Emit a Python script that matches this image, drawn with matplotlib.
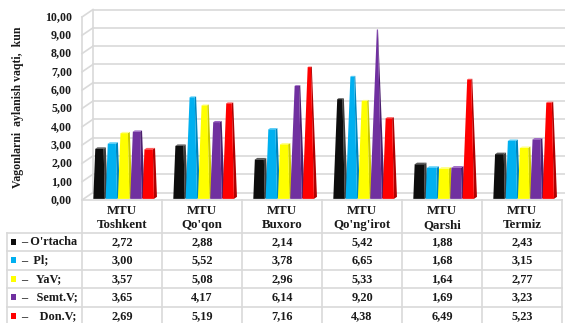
import matplotlib.pyplot as plt
import numpy as np
from matplotlib.patches import Polygon, Rectangle

# ---- data ----
categories = ["MTU\nToshkent", "MTU\nQo'qon", "MTU\nBuxoro",
              "MTU\nQo'ng'irot", "MTU\nQarshi", "MTU\nTermiz"]
series_names = ["– O'rtacha", "–  Pl;", "–   YaV;", "–   Semt.V;", "–    Don.V;"]
ortacha = [2.72, 2.88, 2.14, 5.42, 1.88, 2.43]
pl = [3.00, 5.52, 3.78, 6.65, 1.68, 3.15]
yav = [3.57, 5.08, 2.96, 5.33, 1.64, 2.77]
semt = [3.65, 4.17, 6.14, 9.20, 1.69, 3.23]
don = [2.69, 5.19, 7.16, 4.38, 6.49, 5.23]
series = [ortacha, pl, yav, semt, don]
y_ticks = np.arange(0, 11, 1)
y_max = 10.0

# front / side / top colour of each series
face_colors = ["#0d0d0d", "#00b0f0", "#ffff00", "#7030a0", "#ff0000"]
side_colors = ["#3c3c3c", "#0084bd", "#c9c900", "#4b1f6e", "#b00000"]
top_colors = ["#5a5a5a", "#55cdf8", "#ffff90", "#9a63c4", "#ff6060"]

FONT = "Liberation Serif"
TXT = "#1a1a1a"
GRID = "#d9d9d9"

W, H = 565, 323
fig = plt.figure(figsize=(W / 100, H / 100), dpi=100)

# chart area: front plane of the 3d box
ax = fig.add_axes([82 / W, (H - 200) / H, 480 / W, 183 / H])
ax.set_xlim(-0.5, len(categories) - 0.5)
ax.set_ylim(0, y_max)
ax.axis("off")

# oblique depth vector (full floor depth) in data units
ddx = 11 / 80
ddy = 7.5 / 18.3


def proj(x, z, y):
    return (x + z * ddx, y + z * ddy)


x0, x1 = -0.5, len(categories) - 0.5
# back wall gridlines + side wall
for v in y_ticks:
    ax.plot([x0 + ddx, x1 + ddx], [v + ddy, v + ddy], color=GRID, lw=1.2,
            clip_on=False, zorder=1)
    ax.plot([x0, x0 + ddx], [v, v + ddy], color=GRID, lw=1.2,
            clip_on=False, zorder=1)
ax.plot([x0, x0], [0, y_max], color=GRID, lw=1.2, clip_on=False, zorder=1)
ax.plot([x0 + ddx, x0 + ddx], [ddy, y_max + ddy], color=GRID, lw=1.2,
        clip_on=False, zorder=1)
ax.plot([x0, x1], [0, 0], color=GRID, lw=1.2, clip_on=False, zorder=1)

# y tick labels on the front edge
for v in y_ticks:
    ax.text(x0 - 10 / 80, v, f"{v:.2f}".replace(".", ","), ha="right",
            va="center", fontsize=8.6, fontweight="bold", family=FONT,
            color=TXT)

fig.text(18 / W, 1 - 107 / H, "Vagonlarni  aylanish vaqti,  kun",
         rotation=90, ha="center", va="center", fontsize=8.5,
         fontweight="bold", family=FONT, color=TXT)

# pyramid bars (truncated towards the axis maximum)
sp = 12.3 / 80
bw = 11.5 / 80
cz, hz = 0.285, 0.135
for i in range(len(categories)):
    for j, vals in enumerate(series):
        h = vals[i]
        t = 1 - h / y_max
        cx = i + (j - 2) * sp
        xl_b, xr_b = cx - bw / 2, cx + bw / 2
        xl_t, xr_t = cx - t * bw / 2, cx + t * bw / 2
        zf_b, zb_b = cz - hz, cz + hz
        zf_t, zb_t = cz - t * hz, cz + t * hz
        side = [proj(xr_b, zf_b, 0), proj(xr_b, zb_b, 0),
                proj(xr_t, zb_t, h), proj(xr_t, zf_t, h)]
        top = [proj(xl_t, zf_t, h), proj(xr_t, zf_t, h),
               proj(xr_t, zb_t, h), proj(xl_t, zb_t, h)]
        front = [proj(xl_b, zf_b, 0), proj(xr_b, zf_b, 0),
                 proj(xr_t, zf_t, h), proj(xl_t, zf_t, h)]
        z = 3 + j * 0.1
        ax.add_patch(Polygon(side, closed=True, fc=side_colors[j], ec="none",
                             zorder=z, clip_on=False))
        ax.add_patch(Polygon(top, closed=True, fc=top_colors[j], ec="none",
                             zorder=z, clip_on=False))
        ax.add_patch(Polygon(front, closed=True, fc=face_colors[j], ec="none",
                             zorder=z + 0.05, clip_on=False))

# ---- data table below the chart ----
tax = fig.add_axes([0, 0, 1, 1])
tax.set_xlim(-0.5 - 82 / 80, -0.5 + (W - 82) / 80)
tax.set_ylim(H, 0)
tax.axis("off")
tax.patch.set_alpha(0)

row_top = 232.5
row_h = 18.5
legend_left = -0.5 - 75 / 80

for k in range(len(categories) + 1):
    tax.plot([x0 + k, x0 + k], [200, H + 5], color=GRID, lw=1.2)
tax.plot([legend_left, legend_left], [row_top, H + 5], color=GRID, lw=1.2)
for r in range(len(series) + 1):
    y = row_top + r * row_h
    tax.plot([legend_left, x1], [y, y], color=GRID, lw=1.2)

for i, name in enumerate(categories):
    tax.text(i, 218, name, ha="center", va="center", fontsize=9.3,
             fontweight="bold", family=FONT, color=TXT, linespacing=1.25)

for r, vals in enumerate(series):
    yc = row_top + (r + 0.5) * row_h
    tax.add_patch(Rectangle((-0.5 - 71 / 80, yc - 3), 5 / 80, 6,
                            fc=face_colors[r], ec="none"))
    tax.text(-0.5 - 61 / 80, yc, series_names[r], ha="left", va="center",
             fontsize=8.8, fontweight="bold", family=FONT, color=TXT)
    for i, v in enumerate(vals):
        tax.text(i, yc, f"{v:.2f}".replace(".", ","), ha="center",
                 va="center", fontsize=8.8, fontweight="bold", family=FONT,
                 color=TXT)

fig.savefig("out.png", dpi=100)
